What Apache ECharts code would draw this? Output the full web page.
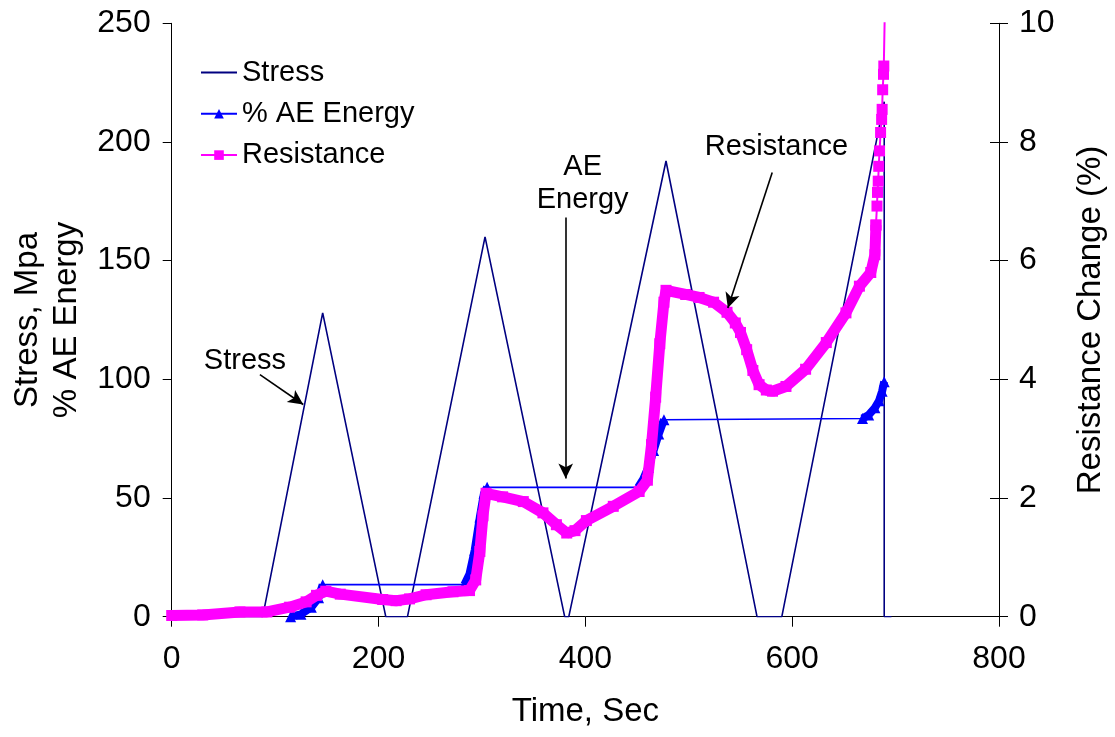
<!DOCTYPE html>
<html><head><meta charset="utf-8">
<script src="https://cdn.jsdelivr.net/npm/echarts@6/dist/echarts.min.js"></script>
<style>html,body{margin:0;padding:0;background:#fff}#c{width:1115px;height:737px}</style>
</head><body><div id="c"></div>
<script>
// ---- data ----
const stressTime = [0, 88, 146, 207, 228, 303, 380, 384, 478, 566, 590, 689, 689, 696];
const stressVal  = [0, 0, 128, 0, 0, 160, 0, 0, 192, 0, 0, 217, 0, 0];

const aeTime = [115, 125, 135, 142, 146, 283, 288, 293, 298, 302, 305, 451, 456, 461, 466, 471, 476, 668, 674, 680, 684, 687, 689];
const aeVal  = [0, 1, 4, 8, 13.5, 13.5, 18, 28, 42, 52, 54.5, 54.5, 58, 63, 70, 77, 83, 83.5, 85, 88, 91, 95, 99];
const aeRiseGroups = [[0, 4], [5, 10], [11, 16], [17, 22]];

const resTime = [0, 30, 66, 92, 114, 130, 140, 149, 163, 204, 217, 230, 246, 272, 288, 294, 298, 301, 304, 320, 340, 359, 372, 382, 390, 401, 427, 452, 460, 464, 468, 472, 476, 478, 497, 510, 524, 537, 545, 550, 556, 562, 568, 575, 581, 594, 613, 633, 652, 665, 676, 680, 681];
const resVal  = [0.02, 0.03, 0.08, 0.08, 0.16, 0.25, 0.36, 0.43, 0.38, 0.29, 0.27, 0.3, 0.37, 0.42, 0.44, 0.62, 1.1, 1.7, 2.08, 2.02, 1.94, 1.75, 1.55, 1.41, 1.45, 1.62, 1.86, 2.11, 2.3, 2.9, 3.7, 4.6, 5.3, 5.5, 5.43, 5.38, 5.3, 5.13, 4.95, 4.79, 4.5, 4.15, 3.91, 3.82, 3.8, 3.88, 4.17, 4.62, 5.12, 5.57, 5.8, 6.1, 6.6];
const resTailTime = [681, 682, 682.5, 683.2, 683.7, 684.5, 685.5, 686.5, 687, 687.5, 688.3, 688.6, 690];
const resTailVal  = [6.6, 6.92, 7.15, 7.34, 7.59, 7.85, 8.16, 8.38, 8.55, 8.88, 9.14, 9.28, 10.6];

// annotations (data coordinates, left axis)
const annoTexts = [
  {text: 'Stress', at: [70.8, 107.6]},
  {text: 'AE\nEnergy', at: [397.4, 182.5]},
  {text: 'Resistance', at: [584.8, 197.7]}
];
const annoArrows = [
  [[85.3, 102], [127.2, 89.4]],
  [[381, 168.2], [381, 58.2]],
  [[580.7, 187.1], [537.8, 130.1]]
];

const xTickInterval = 200, xMax = 800;
const yLeftMax = 250, yLeftInterval = 50;
const yRightMax = 10, yRightInterval = 2;

// ---- build ----
const zip = (a, b) => a.map((v, i) => [v, b[i]]);
const FONT = "'Liberation Sans', Arial, sans-serif";
const FS = 29;      // legend / annotations
const FS_TICK = 32; // tick labels
const FS_TITLE = 33; // axis titles

const series = [];
series.push({
  name: 'Stress', type: 'line', data: zip(stressTime, stressVal), yAxisIndex: 0,
  symbol: 'none', lineStyle: {color: '#000080', width: 1.6}, itemStyle: {color: '#000080'}, z: 2,
  markLine: {
    silent: true, symbol: ['none', 'arrow'], symbolSize: [11, 15],
    lineStyle: {color: '#000', width: 1.6, type: 'solid'}, label: {show: false},
    data: annoArrows.map(a => [{coord: a[0], symbol: 'none'}, {coord: a[1]}])
  },
  markPoint: {
    silent: true, symbol: 'rect', symbolSize: 1, itemStyle: {color: 'rgba(0,0,0,0)'},
    label: {show: true, position: 'inside', color: '#000', fontFamily: FONT, fontSize: FS, lineHeight: 33, align: 'center'},
    data: annoTexts.map(t => ({coord: t.at, value: t.text, label: {formatter: t.text}}))
  }
});
series.push({
  name: '% AE Energy', type: 'line', data: zip(aeTime, aeVal), yAxisIndex: 0,
  symbol: 'triangle', showSymbol: false, symbolSize: 10,
  lineStyle: {color: '#0000FF', width: 1.6}, itemStyle: {color: '#0000FF'}, z: 3
});
aeRiseGroups.forEach(g => {
  series.push({
    name: '% AE Energy', type: 'line', data: zip(aeTime.slice(g[0], g[1] + 1), aeVal.slice(g[0], g[1] + 1)), yAxisIndex: 0,
    symbol: 'triangle', showSymbol: true, symbolSize: 11,
    lineStyle: {color: '#0000FF', width: 8}, itemStyle: {color: '#0000FF'}, z: 3
  });
});
series.push({
  name: 'Resistance', type: 'line', data: zip(resTime, resVal), yAxisIndex: 1,
  symbol: 'rect', showSymbol: true, symbolSize: 11,
  lineStyle: {color: '#FF00FF', width: 11}, itemStyle: {color: '#FF00FF'}, z: 4
});
series.push({
  name: 'Resistance', type: 'line', data: zip(resTailTime, resTailVal), yAxisIndex: 1,
  symbol: 'rect', showSymbol: true, symbolSize: 11,
  lineStyle: {color: '#FF00FF', width: 2}, itemStyle: {color: '#FF00FF'}, z: 4
});

const axisLine = {show: true, lineStyle: {color: '#000', width: 1}};
const option = {
  animation: false,
  backgroundColor: '#fff',
  textStyle: {fontFamily: FONT},
  grid: {left: 171.7, right: 113.3, top: 23.3, bottom: 120.3},
  legend: {
    orient: 'vertical', left: 195, top: 53, itemWidth: 36, itemHeight: 12, itemGap: 12.3,
    textStyle: {fontFamily: FONT, fontSize: FS, color: '#000'},
    lineStyle: {width: 2},
    data: [
      {name: 'Stress', itemStyle: {color: 'rgba(0,0,0,0)', borderWidth: 0, opacity: 0}},
      {name: '% AE Energy'},
      {name: 'Resistance'}
    ]
  },
  xAxis: {
    type: 'value', min: 0, max: xMax, interval: xTickInterval,
    name: 'Time, Sec', nameLocation: 'middle', nameGap: 79,
    nameTextStyle: {fontFamily: FONT, fontSize: FS_TITLE, color: '#000'},
    axisLine: axisLine, axisTick: {show: true, length: 10, lineStyle: {color: '#000'}},
    axisLabel: {fontFamily: FONT, fontSize: FS_TICK, color: '#000', margin: 26},
    splitLine: {show: false}
  },
  yAxis: [
    {
      type: 'value', position: 'left', min: 0, max: yLeftMax, interval: yLeftInterval,
      name: 'Stress, Mpa\n% AE Energy', nameLocation: 'middle', nameGap: 85, nameRotate: 90,
      nameTextStyle: {fontFamily: FONT, fontSize: FS_TITLE, color: '#000', lineHeight: 39},
      axisLine: axisLine, axisTick: {show: true, length: 9, lineStyle: {color: '#000'}},
      axisLabel: {fontFamily: FONT, fontSize: FS_TICK, color: '#000', margin: 21},
      splitLine: {show: false}
    },
    {
      type: 'value', position: 'right', min: 0, max: yRightMax, interval: yRightInterval,
      name: 'Resistance Change (%)', nameLocation: 'middle', nameGap: 75, nameRotate: 90,
      nameTextStyle: {fontFamily: FONT, fontSize: FS_TITLE, color: '#000'},
      axisLine: axisLine, axisTick: {show: true, length: 9, lineStyle: {color: '#000'}},
      axisLabel: {fontFamily: FONT, fontSize: FS_TICK, color: '#000', margin: 20},
      splitLine: {show: false}
    },
    {
      type: 'value', position: 'right', min: 0, max: yRightMax, interval: yRightInterval,
      axisLine: {show: false}, axisTick: {show: true, inside: true, length: 9, lineStyle: {color: '#000'}},
      axisLabel: {show: false}, splitLine: {show: false}
    }
  ],
  series: series
};
const chart = echarts.init(document.getElementById('c'), null, {renderer: 'canvas'});
chart.setOption(option);
</script>
</body></html>
